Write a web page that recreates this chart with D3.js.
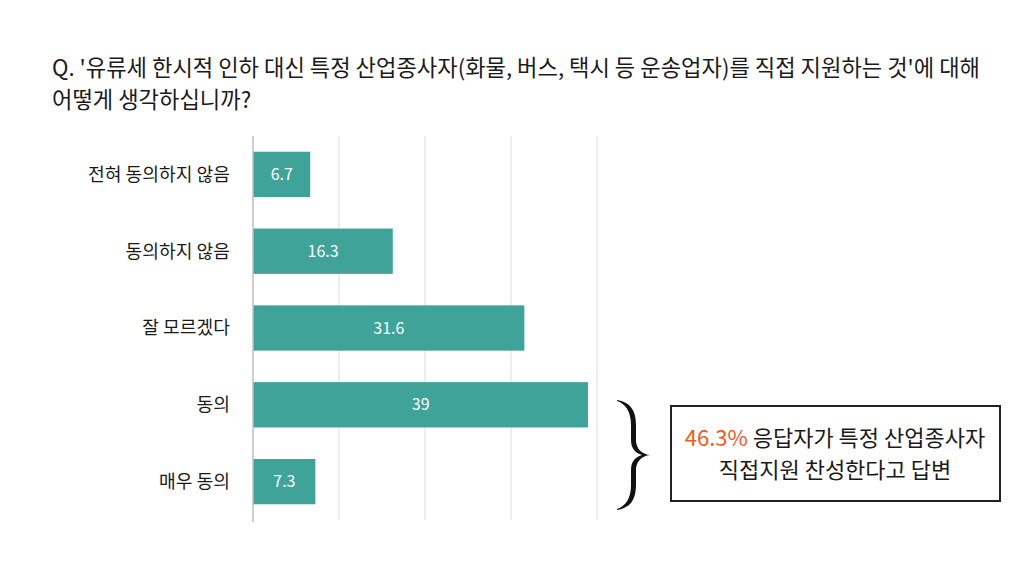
<!DOCTYPE html>
<html>
<head>
<meta charset="utf-8">
<script src="https://cdn.jsdelivr.net/npm/d3@7"></script>
<style>
  body { margin: 0; background: #fff; }
  svg text { font-family: "Noto Sans CJK KR", "Noto Sans", sans-serif; }
</style>
</head>
<body>
<div id="chart"></div>
<script>
const titleLines = [
  "Q. '유류세 한시적 인하 대신 특정 산업종사자(화물, 버스, 택시 등 운송업자)를 직접 지원하는 것'에 대해",
  "어떻게 생각하십니까?"
];
const categories = ["전혀 동의하지 않음", "동의하지 않음", "잘 모르겠다", "동의", "매우 동의"];
const values = [6.7, 16.3, 31.6, 39, 7.3];
const gridTicks = [0, 10, 20, 30, 40];
const noteHighlight = "46.3%";
const noteLines = [" 응답자가 특정 산업종사자", "직접지원 찬성한다고 답변"];

const W = 1024, H = 576;
const margin = { top: 136, left: 253, plotW: 344, plotH: 384 };

const svg = d3.select("#chart")
  .append("svg")
  .attr("width", W)
  .attr("height", H);

// title
svg.selectAll(".title")
  .data(titleLines)
  .enter()
  .append("text")
  .attr("x", 52)
  .attr("y", (d, i) => 76 + i * 32)
  .attr("font-size", 22.2)
  .attr("fill", "#1a1a1a")
  .text(d => d);

const g = svg.append("g").attr("transform", `translate(${margin.left},${margin.top})`);

const x = d3.scaleLinear().domain([0, 40]).range([0, margin.plotW]);
const y = d3.scaleBand().domain(categories).range([0, margin.plotH]).paddingInner(0.41).paddingOuter(0.205);

// gridlines
g.selectAll(".grid")
  .data(gridTicks.slice(1))
  .enter()
  .append("line")
  .attr("x1", d => x(d))
  .attr("x2", d => x(d))
  .attr("y1", 0)
  .attr("y2", margin.plotH)
  .attr("stroke", "#dcdcdc")
  .attr("stroke-width", 1);

g.append("line")
  .attr("x1", 0).attr("x2", 0)
  .attr("y1", 0).attr("y2", margin.plotH + 2)
  .attr("stroke", "#b0b0b0")
  .attr("stroke-width", 1.2);

// bars
g.selectAll(".bar")
  .data(values)
  .enter()
  .append("rect")
  .attr("x", 0.6)
  .attr("y", (d, i) => y(categories[i]))
  .attr("width", d => x(d) - 1)
  .attr("height", y.bandwidth())
  .attr("fill", "#40a399");

g.selectAll(".val")
  .data(values)
  .enter()
  .append("text")
  .attr("x", d => x(d) / 2)
  .attr("y", (d, i) => y(categories[i]) + y.bandwidth() / 2)
  .attr("dy", "0.35em")
  .attr("text-anchor", "middle")
  .attr("font-size", 16)
  .attr("fill", "#fff")
  .text(d => d);

// category labels
g.selectAll(".cat")
  .data(categories)
  .enter()
  .append("text")
  .attr("x", -23)
  .attr("y", d => y(d) + y.bandwidth() / 2)
  .attr("dy", "0.35em")
  .attr("text-anchor", "end")
  .attr("font-size", 18.2)
  .attr("fill", "#1a1a1a")
  .text(d => d);

// brace
svg.append("path")
  .attr("d", "M617,400 C630,402 636,410 636,425 L636,440 C636,448 641,454 650,455 " +
             "C641,456 636,462 636,470 L636,485 C636,500 630,508 617,510 " +
             "L617,509 C626,506 631,498 631,485 L631,470 C631,462 635,457 642,455 " +
             "C635,453 631,448 631,440 L631,425 C631,412 626,404 617,401 Z")
  .attr("fill", "#111");

// note box
svg.append("rect")
  .attr("x", 671).attr("y", 406)
  .attr("width", 329).attr("height", 95)
  .attr("fill", "#fff")
  .attr("stroke", "#222")
  .attr("stroke-width", 2);

const t1 = svg.append("text")
  .attr("x", 835).attr("y", 446)
  .attr("text-anchor", "middle")
  .attr("font-size", 22)
  .attr("fill", "#1a1a1a");
t1.append("tspan").attr("fill", "#f05a1e").text(noteHighlight);
t1.append("tspan").text(noteLines[0]);

svg.append("text")
  .attr("x", 835).attr("y", 478)
  .attr("text-anchor", "middle")
  .attr("font-size", 22)
  .attr("fill", "#1a1a1a")
  .text(noteLines[1]);
</script>
</body>
</html>
